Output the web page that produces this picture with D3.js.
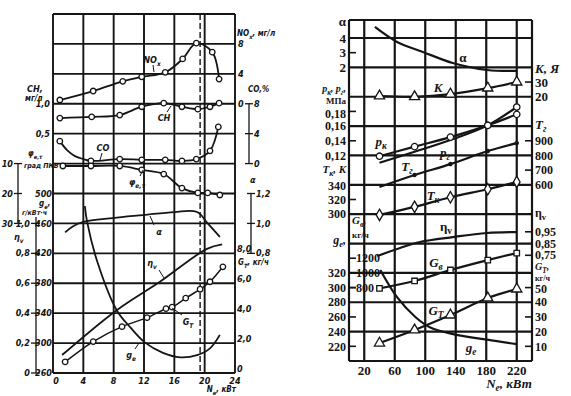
<!DOCTYPE html>
<html>
<head>
<meta charset="utf-8">
<script src="https://cdn.jsdelivr.net/npm/d3@7"></script>
<style>
  body { margin: 0; background: #fff; }
  svg text { fill: #151515; }
  .l text { font-family: "DejaVu Sans Condensed", "DejaVu Sans", sans-serif; font-style: italic; font-weight: bold; font-size: 9px; }
  .r text { font-family: "Liberation Serif", "DejaVu Serif", serif; font-weight: bold; font-size: 13px; }
</style>
</head>
<body>
<svg id="chart" width="571" height="396"></svg>
<script>
// ---------- левый график: N_e, кВт ----------
const leftNeTicks = [0, 4, 8, 12, 16, 20, 24];
const noxPts = [[0.9, 0.5], [5.3, 1.7], [9.2, 3.0], [11.7, 3.6], [14.8, 4.2], [17.1, 6.0], [18.9, 8.1], [21.0, 6.9], [21.9, 3.3]];
const chPts = [[0.9, 0.76], [5.1, 0.78], [8.8, 0.81], [11.7, 0.95], [14.6, 1.01], [17.0, 0.95], [19.1, 0.91], [20.7, 0.95], [21.9, 1.01]];
const coPts = [[0.9, 3.0], [5.0, 0.36], [8.8, 0.6], [11.7, 0.5], [14.8, 0.5], [17.0, 0.36], [18.9, 0.6], [20.7, 1.7], [21.8, 4.9]];
const coBend = [[1.85, 1.8], [2.9, 1.0], [4.0, 0.6]];   // изгиб кривой CO между точками
const phiPts = [[1.3, 10.8], [5.0, 10.8], [8.8, 10.8], [11.7, 12.1], [14.6, 13.5], [17.0, 18.2], [19.1, 19.8], [20.4, 19.8], [22.0, 20.5]];
const alphaL = [[1.6, 0.94], [2.6, 0.98], [4.0, 1.01], [7.9, 1.036], [11.9, 1.056], [16.0, 1.076], [19.0, 1.076], [20.4, 1.0], [22.0, 0.91]];
const geL = [[4.2, 483], [4.5, 462], [5.9, 407], [8.4, 344], [10.2, 321], [12.1, 301], [14.5, 287], [16.8, 281], [19.0, 284], [20.7, 293], [22.0, 311]];
const etaL = [[1.2, 0.12], [8.4, 0.42], [14.1, 0.61], [20.3, 0.83], [22.3, 0.86]];
const gtL = [[1.6, 0.74], [5.3, 2.1], [9.1, 3.1], [12.4, 3.7], [14.9, 4.3], [15.7, 4.4], [17.5, 5.0], [19.4, 5.6], [20.7, 6.1], [22.4, 7.1]];
const limitNe = 19.4;

const chTicks = [0.5, 1.0];
const phiTicks = [10, 20, 30];
const geLTicks = [260, 300, 340, 380, 420, 460, 500];
const etaLTicks = [0, 0.2, 0.4, 0.6, 0.8, 1.0];
const noxTicks = [0, 4, 8];
const coTicks = [0, 4, 8];
const alphaLTicks = [0.8, 1.0, 1.2];
const gtLTicks = [0, 2, 4, 6, 8];

// ---------- правый график: N_e, кВт ----------
const rightNeTicks = [20, 60, 100, 140, 180, 220];
const neR = [40, 86, 133, 182, 220];
const kR = [20.5, 20, 21.8, 25.9, 30];
const pkR = [0.119, 0.132, 0.145, 0.161, 0.176];
const pgR = [0.110, 0.125, 0.141, 0.161, 0.186];
const tgR = [585, 667, 741, 830, 884];
const tkR = [299, 310, 323, 334, 344];
const gvR = [790, 890, 1040, 1175, 1270];
const gtR = [12.2, 21.1, 31.3, 42.9, 49];
const alphaR = [[34, 4.75], [63, 3.73], [97, 3.05], [136, 2.3], [181, 1.82], [220, 1.76]];
const etaR = [[37, 0.744], [67, 0.812], [93, 0.863], [136, 0.905], [181, 0.94], [220, 0.948]];
const geR = [[41, 324], [63, 287], [87, 260], [106, 246], [135, 237], [181, 229], [220, 223]];

const alphaRTicks = [2, 3, 4];
const pTicks = [0.12, 0.14, 0.16, 0.18];
const tkTicks = [300, 320, 340];
const gvTicks = [800, 1000, 1200];
const geRTicks = [220, 240, 260, 280, 300, 320];
const kTicks = [20, 30];
const tgTicks = [600, 700, 800, 900];
const etaRTicks = [0.75, 0.85, 0.95];
const gtRTicks = [10, 20, 30, 40, 50];

const ink = '#151515';
const svg = d3.select('#chart');
const comma = (v, n) => v === 0 ? '0' : d3.format('.' + n + 'f')(v).replace('.', ',');
const zip = (xs, ys) => xs.map((x, i) => [x, ys[i]]);

// текст с нижними индексами вида p_{к}
function addText(g, x, y, str, opt = {}) {
    let t = g.append('text').attr('x', x).attr('y', y)
        .attr('text-anchor', opt.anchor || 'start')
        .attr('dy', '0.35em');
    if (opt.size) t.style('font-size', opt.size + 'px');
    if (opt.italic) t.style('font-style', 'italic');
    let sub = false;
    str.split(/(_\{[^}]*\})/).forEach(p => {
        if (!p) return;
        if (p.startsWith('_{')) {
            t.append('tspan').attr('dy', 3).style('font-size', '72%').text(p.slice(2, -1));
            sub = true;
        } else {
            t.append('tspan').attr('dy', sub ? -3 : null).text(p);
            sub = false;
        }
    });
    return t;
}
function seg(g, x1, y1, x2, y2, w, dash) {
    g.append('line').attr('x1', x1).attr('y1', y1).attr('x2', x2).attr('y2', y2)
        .attr('stroke', ink).attr('stroke-width', w || 1.3)
        .attr('stroke-dasharray', dash || null);
}
function curve(g, pts, x, y, w) {
    g.append('path').datum(pts)
        .attr('fill', 'none').attr('stroke', ink).attr('stroke-width', w)
        .attr('d', d3.line().x(d => x(d[0])).y(d => y(d[1])).curve(d3.curveCatmullRom.alpha(0.5)));
}
function marks(g, pts, x, y, type, size, filled) {
    g.selectAll(null).data(pts).enter().append('path')
        .attr('transform', d => 'translate(' + x(d[0]) + ',' + y(d[1]) + ')')
        .attr('d', d3.symbol().type(type).size(size))
        .attr('fill', filled ? ink : '#fff').attr('stroke', ink).attr('stroke-width', 1.3);
}

// ================= левая диаграмма =================
let gL = svg.append('g').attr('class', 'l');
let xL = d3.scaleLinear().domain([0, 24]).range([53, 235]);
let rowL = d3.scaleLinear().domain([0, 12]).range([373, 14]);
let yNox = d3.scaleLinear().domain([0, 8]).range([rowL(9), rowL(11)]);
let yCH = d3.scaleLinear().domain([0, 1]).range([rowL(7), rowL(9)]);
let yCO = d3.scaleLinear().domain([0, 8]).range([rowL(7), rowL(9)]);
let yPhi = d3.scaleLinear().domain([10, 30]).range([rowL(7), rowL(5)]);
let yAlphaL = d3.scaleLinear().domain([0.8, 1.2]).range([rowL(4), rowL(6)]);
let yGeL = d3.scaleLinear().domain([260, 500]).range([rowL(0), rowL(6)]);
let yEtaL = d3.scaleLinear().domain([0, 1]).range([rowL(0), rowL(5)]);
let yGtL = d3.scaleLinear().domain([0, 8]).range([rowL(0), rowL(4)]);

// сетка
leftNeTicks.forEach(v => seg(gL, xL(v), rowL(12), xL(v), rowL(0), 1.9));
d3.range(13).forEach(i => seg(gL, xL(0), rowL(i), xL(24), rowL(i), 1.9));
seg(gL, xL(limitNe), rowL(12), xL(limitNe), rowL(0), 1.4, '6,3');

// подписи оси N_e
leftNeTicks.forEach(v => addText(gL, xL(v) + (v === 0 ? 3 : 0), 381, String(v), {anchor: 'middle'}));
addText(gL, 236, 389, 'N_{e}, кВт', {anchor: 'end', size: 8});

// левые шкалы
addText(gL, 27, 89, 'CH,');
addText(gL, 25, 98, 'мг/л', {size: 8});
chTicks.forEach(v => addText(gL, 50, yCH(v), comma(v, 1), {anchor: 'end'}));

seg(gL, 18, yPhi(10), 18, yPhi(30), 1.3);
phiTicks.forEach(v => {
    seg(gL, 14, yPhi(v), 22, yPhi(v), 1.3);
    addText(gL, 13, yPhi(v), String(v), {anchor: 'end'});
});
addText(gL, 28, 153, 'φ_{e,τ}', {size: 8});
addText(gL, 24, 166, 'град ПКВ', {size: 7});

addText(gL, 39, 203, 'g_{e},', {size: 8});
addText(gL, 22, 213, 'г/кВт·ч', {size: 7});
geLTicks.forEach(v => addText(gL, 52, yGeL(v), String(v), {anchor: 'end'}));

seg(gL, 36, 217, 36, yEtaL(0), 1.3);
etaLTicks.forEach(v => {
    seg(gL, 31, yEtaL(v), 40, yEtaL(v), 1.3);
    addText(gL, 30, yEtaL(v), comma(v, 1), {anchor: 'end'});
});
addText(gL, 14, 237, 'η_{v}');

// правые шкалы
addText(gL, 237, 33, 'NO_{x}, мг/л', {size: 8});
noxTicks.forEach(v => addText(gL, 238, yNox(v), String(v)));

addText(gL, 248, 89, 'CO,%', {size: 8});
seg(gL, 249, yCO(0), 249, yCO(8), 1.3);
coTicks.forEach(v => {
    seg(gL, 245, yCO(v), 253, yCO(v), 1.3);
    addText(gL, 254, yCO(v), String(v));
});

addText(gL, 250, 180, 'α');
seg(gL, 251, yAlphaL(1.2), 251, yAlphaL(0.8), 1.3);
alphaLTicks.forEach(v => {
    seg(gL, 247, yAlphaL(v), 255, yAlphaL(v), 1.3);
    addText(gL, 256, yAlphaL(v), comma(v, 1));
});

addText(gL, 238, 262, 'G_{T}, кг/ч', {size: 8});
gtLTicks.forEach(v => addText(gL, 237, yGtL(v) - 4, comma(v, 1)));

// кривые
curve(gL, noxPts, xL, yNox, 1.8);
curve(gL, chPts, xL, yCH, 1.8);
curve(gL, [coPts[0]].concat(coBend, coPts.slice(1)), xL, yCO, 1.8);
curve(gL, phiPts, xL, yPhi, 1.8);
curve(gL, alphaL, xL, yAlphaL, 1.8);
curve(gL, geL, xL, yGeL, 1.8);
curve(gL, etaL, xL, yEtaL, 1.8);
curve(gL, gtL, xL, yGtL, 1.5);
marks(gL, noxPts, xL, yNox, d3.symbolCircle, 24);
marks(gL, chPts, xL, yCH, d3.symbolCircle, 24);
marks(gL, coPts, xL, yCO, d3.symbolCircle, 24);
marks(gL, phiPts, xL, yPhi, d3.symbolCircle, 24);
marks(gL, gtL, xL, yGtL, d3.symbolCircle, 24);

// подписи кривых с выносками
[
    {t: 'NO_{x}', x: 152, y: 60, l: [153, 65, 154, 72]},
    {t: 'CH', x: 164, y: 118, l: [167, 112, 171, 106]},
    {t: 'CO', x: 103, y: 148, l: [102, 153, 100, 160]},
    {t: 'φ_{e,τ}', x: 137, y: 182, l: [140, 176, 143, 170]},
    {t: 'α', x: 159, y: 232, l: [154, 225, 150, 216]},
    {t: 'η_{v}', x: 152, y: 263, l: [159, 270, 164, 278]},
    {t: 'G_{T}', x: 188, y: 322, l: [182, 315, 172, 308]},
    {t: 'g_{e}', x: 131, y: 355, l: [135, 349, 139, 343]}
].forEach(d => {
    addText(gL, d.x, d.y, d.t, {anchor: 'middle'});
    seg(gL, d.l[0], d.l[1], d.l[2], d.l[3], 1);
});

// ================= правая диаграмма =================
let gR = svg.append('g').attr('class', 'r');
let xR = d3.scaleLinear().domain([0, 240]).range([349, 532]);
let rowR = d3.scaleLinear().domain([0, 11]).range([361, 38]);
let topR = 20;
let yAlphaR = d3.scaleLinear().domain([2, 4]).range([rowR(10), rowR(11)]);
let yK = d3.scaleLinear().domain([20, 30]).range([rowR(9), rowR(9.5)]);
let yP = d3.scaleLinear().domain([0.12, 0.16]).range([rowR(7), rowR(8)]);
let yTg = d3.scaleLinear().domain([600, 800]).range([rowR(6), rowR(7)]);
let yTk = d3.scaleLinear().domain([300, 340]).range([rowR(5), rowR(6)]);
let yGv = d3.scaleLinear().domain([800, 1200]).range([rowR(2.5), rowR(3.5)]);
let yGeR = d3.scaleLinear().domain([220, 320]).range([rowR(0.5), rowR(3)]);
let yEtaR = d3.scaleLinear().domain([0.75, 0.95]).range([rowR(3.6), rowR(4.4)]);
let yGtR = d3.scaleLinear().domain([10, 50]).range([rowR(0.5), rowR(2.5)]);

// сетка
[0].concat(rightNeTicks, [240]).forEach(v => seg(gR, xR(v), topR, xR(v), rowR(0), 2.2));
d3.range(12).forEach(i => seg(gR, xR(0), rowR(i), xR(240), rowR(i), 2.2));
seg(gR, xR(0), topR, xR(240), topR, 2.2);

rightNeTicks.forEach(v => addText(gR, xR(v), 370, String(v), {anchor: 'middle'}));
addText(gR, 509, 383, 'N_{e}, кВт', {anchor: 'middle', italic: true});

// левые шкалы
function leftTick(y, onGrid) { if (!onGrid) seg(gR, xR(0), y, xR(0) + 7, y, 1.6); }
addText(gR, 346, 21, 'α', {anchor: 'end'});
alphaRTicks.forEach(v => { leftTick(yAlphaR(v), v !== 3); addText(gR, 346, yAlphaR(v), String(v), {anchor: 'end'}); });
addText(gR, 346, 88, 'p_{к}, p_{г},', {anchor: 'end', italic: true, size: 10});
addText(gR, 346, 101, 'МПа', {anchor: 'end', size: 9});
pTicks.forEach(v => { leftTick(yP(v), v === 0.12 || v === 0.16); addText(gR, 346, yP(v) + (v === 0.18 ? 2 : 0), comma(v, 2), {anchor: 'end', size: 12}); });
addText(gR, 346, 169, 'T_{к}, K', {anchor: 'end', italic: true, size: 11});
tkTicks.forEach(v => { leftTick(yTk(v), v !== 320); addText(gR, 346, yTk(v) + (v === 340 ? 1 : 0), String(v), {anchor: 'end', size: 12}); });
addText(gR, 352, 220, 'G_{в},', {italic: true, size: 11});
addText(gR, 352, 235, 'кг/ч', {size: 9});
gvTicks.forEach(v => { leftTick(yGv(v), false); addText(gR, 356, yGv(v), String(v), {size: 12}); });
addText(gR, 346, 240, 'g_{e},', {anchor: 'end', italic: true, size: 12});
geRTicks.forEach(v => { leftTick(yGeR(v), v === 240 || v === 280 || v === 320); addText(gR, 346, yGeR(v), String(v), {anchor: 'end', size: 12}); });

// правые шкалы
function rightTick(y, onGrid) { if (!onGrid) seg(gR, xR(240) - 7, y, xR(240), y, 1.6); }
addText(gR, 535, 68, 'K, Я', {italic: true});
kTicks.forEach(v => { rightTick(yK(v), v === 20); addText(gR, 535, yK(v), String(v)); });
addText(gR, 535, 124, 'T_{г}', {italic: true});
tgTicks.forEach(v => { rightTick(yTg(v), v === 600 || v === 800); addText(gR, 535, yTg(v), String(v), {size: 12}); });
addText(gR, 535, 213, 'η_{v}', {size: 12});
etaRTicks.forEach(v => { rightTick(yEtaR(v), v === 0.85); addText(gR, 535, yEtaR(v), comma(v, 2), {size: 12}); });
addText(gR, 535, 266, 'G_{T},', {italic: true, size: 10});
addText(gR, 535, 278, 'кг/ч', {size: 8});
gtRTicks.forEach(v => { rightTick(yGtR(v), v === 20 || v === 40); addText(gR, 535, yGtR(v) + (v === 50 ? 1 : 0), String(v), {size: 12}); });

// кривые
curve(gR, alphaR, xR, yAlphaR, 2.2);
curve(gR, zip(neR, kR), xR, yK, 2.2);
curve(gR, zip(neR, pkR), xR, yP, 2.2);
curve(gR, zip(neR, pgR), xR, yP, 2.2);
curve(gR, zip(neR, tgR), xR, yTg, 2.2);
curve(gR, zip(neR, tkR), xR, yTk, 2.2);
curve(gR, etaR, xR, yEtaR, 2.2);
curve(gR, zip(neR, gvR), xR, yGv, 2.2);
curve(gR, zip(neR, gtR), xR, yGtR, 2.2);
curve(gR, geR, xR, yGeR, 2.2);
marks(gR, zip(neR, kR), xR, yK, d3.symbolTriangle, 45);
marks(gR, zip(neR, pkR), xR, yP, d3.symbolCircle, 32);
marks(gR, zip(neR, pgR).slice(3), xR, yP, d3.symbolCircle, 32);
marks(gR, zip(neR, tgR).slice(1), xR, yTg, d3.symbolCircle, 8, true);
marks(gR, zip(neR, tkR), xR, yTk, d3.symbolDiamond, 38);
marks(gR, zip(neR, gvR), xR, yGv, d3.symbolSquare, 30);
marks(gR, zip(neR, gtR), xR, yGtR, d3.symbolTriangle, 45);

// подписи кривых
[
    ['α', 463, 57], ['K', 438, 87], ['p_{к}', 381, 141], ['T_{г}', 407, 166],
    ['p_{г}', 445, 152], ['T_{к}', 433, 195], ['η_{v}', 446, 226],
    ['G_{в}', 436, 262], ['G_{T}', 436, 310], ['g_{e}', 471, 347]
].forEach(d => addText(gR, d[1], d[2], d[0], {anchor: 'middle', italic: d[0] !== 'α' && d[0] !== 'η_{v}'}));
</script>
</body>
</html>
